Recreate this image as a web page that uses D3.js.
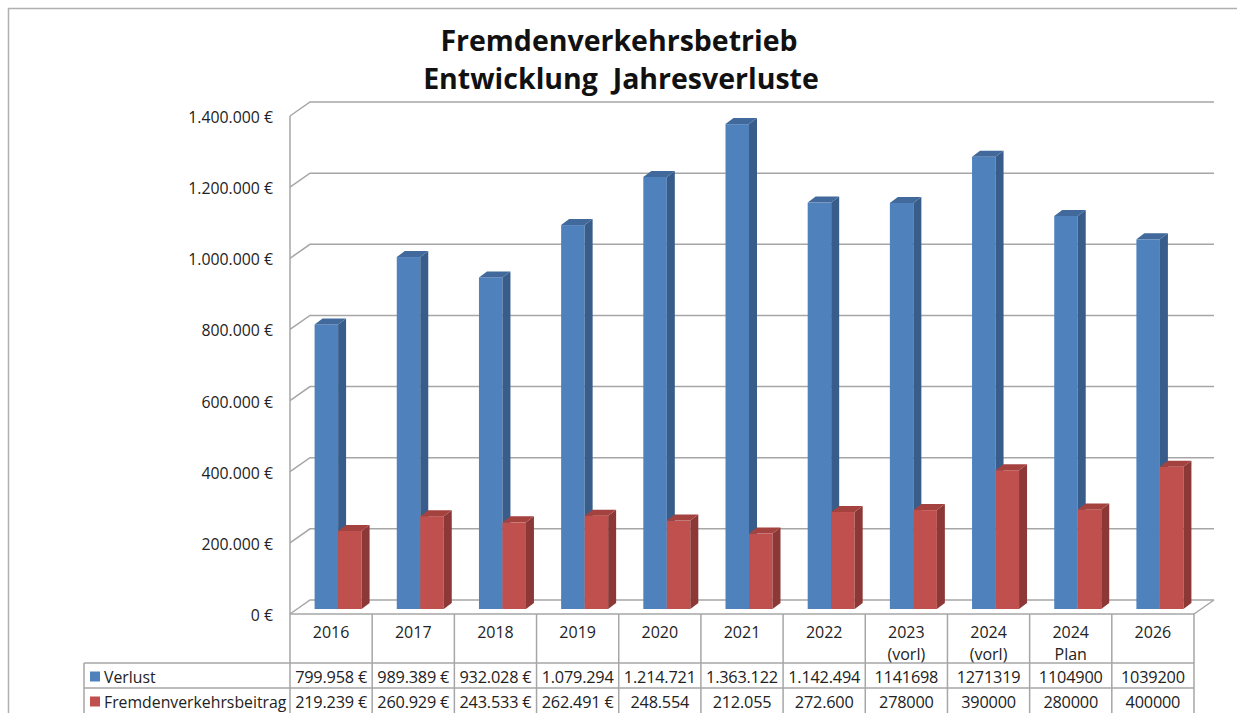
<!DOCTYPE html>
<html>
<head>
<meta charset="utf-8">
<script src="https://cdn.jsdelivr.net/npm/d3@7"></script>
<style>
  body { margin: 0; background: #fff; }
  svg { display: block; font-family: "Open Sans", "Noto Sans", sans-serif; }
</style>
</head>
<body>
<script>
// chart data
var categories = ["2016", "2017", "2018", "2019", "2020", "2021", "2022", "2023\n(vorl)", "2024\n(vorl)", "2024\nPlan", "2026"];
var seriesNames = ["Verlust", "Fremdenverkehrsbeitrag"];
var verlust = [799958, 989389, 932028, 1079294, 1214721, 1363122, 1142494, 1141698, 1271319, 1104900, 1039200];
var beitrag = [219239, 260929, 243533, 262491, 248554, 212055, 272600, 278000, 390000, 280000, 400000];
var verlustLabels = ["799.958 €", "989.389 €", "932.028 €", "1.079.294", "1.214.721", "1.363.122", "1.142.494", "1141698", "1271319", "1104900", "1039200"];
var beitragLabels = ["219.239 €", "260.929 €", "243.533 €", "262.491 €", "248.554", "212.055", "272.600", "278000", "390000", "280000", "400000"];
var yTicks = [0, 200000, 400000, 600000, 800000, 1000000, 1200000, 1400000];

var width = 1237, height = 713;
var left = 290, right = 1194, base = 614;
var wallDx = 20, wallDy = -14;   // depth of the back wall
var barDx = 7, barDy = -5;       // plane the bar fronts sit in
var sideDx = 8, sideDy = -6;     // bar thickness

var colors = [
  {front: "#4f81bd", side: "#385d8a", top: "#41699b"},
  {front: "#c0504d", side: "#8c3836", top: "#a4423f"}
];
var gridColor = "#a6a6a6";

var svg = d3.select("body").append("svg")
    .attr("width", width)
    .attr("height", height);

// outer frame
svg.append("path")
    .attr("d", "M8.5," + height + "V8.5H" + width)
    .attr("fill", "none")
    .attr("stroke", "#b0b0b0")
    .attr("stroke-width", 1.5);

// title
var title = svg.append("text")
    .attr("text-anchor", "middle")
    .attr("font-weight", "bold")
    .attr("font-size", 28.5)
    .attr("fill", "#111");
title.append("tspan").attr("x", 619).attr("y", 51).text("Fremdenverkehrsbetrieb");
title.append("tspan").attr("x", 621).attr("y", 89).attr("xml:space", "preserve").text("Entwicklung  Jahresverluste");

var y = d3.scaleLinear().domain([0, 1400000]).range([base, base - 498]);

var x0 = d3.scaleBand().domain(categories).range([left, right]);
var x1 = d3.scaleBand().domain(seriesNames).range([0, 47]);
var groupOff = (x0.bandwidth() - x1.range()[1]) / 2;

// back wall grid lines + left wall diagonals
var grid = svg.append("g").attr("stroke", gridColor).attr("stroke-width", 1.5).attr("fill", "none");
yTicks.forEach(function(t) {
  var yf = y(t);
  grid.append("path")
      .attr("d", "M" + left + "," + yf + "L" + (left + wallDx) + "," + (yf + wallDy) + "H" + (right + wallDx));
});
// left axis line
grid.append("line").attr("x1", left).attr("x2", left).attr("y1", y(1400000)).attr("y2", base);
// floor right edge
grid.append("line").attr("x1", right).attr("y1", base).attr("x2", right + wallDx).attr("y2", base + wallDy);

// y labels
svg.append("g")
    .selectAll("text")
    .data(yTicks)
    .enter().append("text")
    .attr("x", 273)
    .attr("y", function(d) { return y(d) + 1; })
    .attr("text-anchor", "end")
    .attr("dominant-baseline", "central")
    .attr("font-size", 15.8)
    .attr("fill", "#222")
    .text(function(d) { return d3.format(",")(d).replace(/,/g, ".") + " €"; });

// bars
var bars = [];
categories.forEach(function(c, i) {
  bars.push({cat: c, s: 0, v: verlust[i]});
  bars.push({cat: c, s: 1, v: beitrag[i]});
});

var barG = svg.append("g");
bars.forEach(function(d) {
  var xl = x0(d.cat) + groupOff + barDx + x1(seriesNames[d.s]);
  var w = x1.bandwidth();
  var yb = y(0) + barDy;
  var yt = y(d.v) + barDy;
  var col = colors[d.s];
  var g = barG.append("g");
  g.append("rect")
      .attr("x", xl).attr("y", yt)
      .attr("width", w).attr("height", yb - yt)
      .attr("fill", col.front);
  g.append("path")
      .attr("d", "M" + (xl + w) + "," + yt + "L" + (xl + w + sideDx) + "," + (yt + sideDy) +
                 "V" + (yb + sideDy) + "L" + (xl + w) + "," + yb + "Z")
      .attr("fill", col.side);
  g.append("path")
      .attr("d", "M" + xl + "," + yt + "L" + (xl + sideDx) + "," + (yt + sideDy) +
                 "H" + (xl + w + sideDx) + "L" + (xl + w) + "," + yt + "Z")
      .attr("fill", col.top);
});

// data table
var rowTop = [base, 663, 688];
var table = svg.append("g").attr("stroke", gridColor).attr("stroke-width", 1.5).attr("fill", "none");
table.append("line").attr("x1", left).attr("x2", right).attr("y1", base).attr("y2", base);
table.append("line").attr("x1", 84).attr("x2", right).attr("y1", rowTop[1]).attr("y2", rowTop[1]);
table.append("line").attr("x1", 84).attr("x2", right).attr("y1", rowTop[2]).attr("y2", rowTop[2]);
table.append("line").attr("x1", 84).attr("x2", 84).attr("y1", rowTop[1]).attr("y2", height);
x0.domain().concat([null]).forEach(function(c) {
  var xx = c === null ? right : x0(c);
  table.append("line").attr("x1", xx).attr("x2", xx).attr("y1", base).attr("y2", height);
});

// category labels
var catText = svg.append("g")
    .selectAll("text")
    .data(categories)
    .enter().append("text")
    .attr("text-anchor", "middle")
    .attr("font-size", 16)
    .attr("fill", "#222");
catText.each(function(d) {
  var t = d3.select(this);
  d.split("\n").forEach(function(line, k) {
    t.append("tspan")
        .attr("x", x0(d) + x0.bandwidth() / 2)
        .attr("y", 638 + k * 21.5)
        .text(line);
  });
});

// value rows
[verlustLabels, beitragLabels].forEach(function(labels, r) {
  var yy = [682.5, 707.5][r];
  svg.append("g")
      .selectAll("text")
      .data(labels)
      .enter().append("text")
      .attr("x", function(d, i) { return x0(categories[i]) + x0.bandwidth() / 2; })
      .attr("y", yy)
      .attr("text-anchor", "middle")
      .attr("font-size", 16.3)
      .attr("letter-spacing", -0.2)
      .attr("fill", "#222")
      .text(function(d) { return d; });
  svg.append("rect")
      .attr("x", 90).attr("y", yy - 11)
      .attr("width", 10).attr("height", 10)
      .attr("fill", colors[r].front);
  svg.append("text")
      .attr("x", 104).attr("y", yy)
      .attr("font-size", 15.8)
      .attr("fill", "#222")
      .text(seriesNames[r]);
});
</script>
</body>
</html>
